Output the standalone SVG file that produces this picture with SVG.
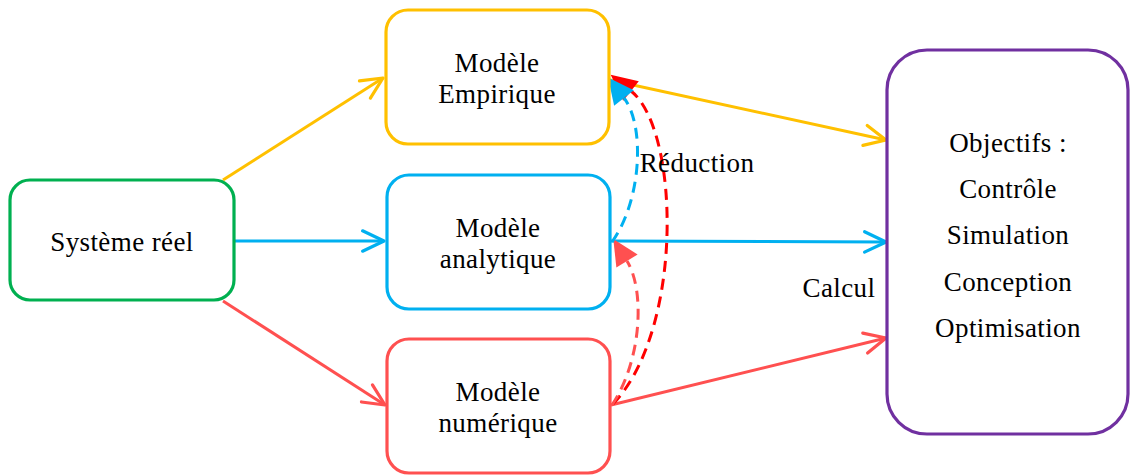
<svg xmlns="http://www.w3.org/2000/svg" width="1131" height="475" viewBox="0 0 1131 475">
<style>
.box{fill:#fff;stroke-width:3.2}
.lbl{font-family:"Liberation Serif","Times New Roman",serif;font-size:27px;fill:#000;text-anchor:middle;letter-spacing:0.4px}
.ln{fill:none;stroke-width:3}
.dash{fill:none;stroke-width:3;stroke-dasharray:11 7}
</style>
<defs>
<marker id="oy" markerUnits="userSpaceOnUse" markerWidth="30" markerHeight="30" viewBox="-24 -14 28 28" refX="0" refY="0" orient="auto"><path d="M-20,-9.5 L0,0 L-20,9.5" fill="none" stroke="#FFC000" stroke-width="3" stroke-linecap="round" stroke-linejoin="round"/></marker>
<marker id="ob" markerUnits="userSpaceOnUse" markerWidth="30" markerHeight="30" viewBox="-24 -14 28 28" refX="0" refY="0" orient="auto"><path d="M-20,-9.5 L0,0 L-20,9.5" fill="none" stroke="#00B0F0" stroke-width="3" stroke-linecap="round" stroke-linejoin="round"/></marker>
<marker id="or" markerUnits="userSpaceOnUse" markerWidth="30" markerHeight="30" viewBox="-24 -14 28 28" refX="0" refY="0" orient="auto"><path d="M-20,-9.5 L0,0 L-20,9.5" fill="none" stroke="#FF5050" stroke-width="3" stroke-linecap="round" stroke-linejoin="round"/></marker>
<marker id="fb" markerUnits="userSpaceOnUse" markerWidth="34" markerHeight="34" viewBox="-2 -17 34 34" refX="0" refY="0" orient="auto"><path d="M0,-12.5 L26,0 L0,12.5 Z" fill="#00B0F0"/></marker>
<marker id="fr" markerUnits="userSpaceOnUse" markerWidth="34" markerHeight="34" viewBox="-2 -17 34 34" refX="0" refY="0" orient="auto"><path d="M0,-12.5 L26,0 L0,12.5 Z" fill="#FF0000"/></marker>
<marker id="fl" markerUnits="userSpaceOnUse" markerWidth="34" markerHeight="34" viewBox="-2 -17 34 34" refX="0" refY="0" orient="auto"><path d="M0,-12.5 L26,0 L0,12.5 Z" fill="#FF5050"/></marker>
</defs>
<rect width="1131" height="475" fill="#fff"/>

<g id="connectors">
<line class="ln" stroke="#FFC000" x1="223" y1="180" x2="383" y2="78" marker-end="url(#oy)"/>
<line class="ln" stroke="#00B0F0" x1="234" y1="241" x2="384" y2="241" marker-end="url(#ob)"/>
<line class="ln" stroke="#FF5050" x1="223" y1="301" x2="385" y2="405" marker-end="url(#or)"/>
<line class="ln" stroke="#FFC000" x1="610" y1="80" x2="886" y2="140" marker-end="url(#oy)"/>
<line class="ln" stroke="#00B0F0" x1="611" y1="241" x2="886" y2="242" marker-end="url(#ob)"/>
<line class="ln" stroke="#FF5050" x1="611" y1="405" x2="886" y2="338" marker-end="url(#or)"/>
<path class="dash" stroke="#FF0000" d="M613,404 C684,330 680,130 631,91" marker-end="url(#fr)"/>
<path class="dash" stroke="#FF5050" d="M612,405 C642,360 645,290 627,261" marker-end="url(#fl)"/>
<path class="dash" stroke="#00B0F0" d="M612,242 C642,200 645,125 624,98" marker-end="url(#fb)"/>
<text class="lbl" x="697" y="172">Réduction</text>
<text class="lbl" x="839" y="297">Calcul</text>
</g>

<g id="systeme-reel">
<rect class="box" stroke="#00B050" x="10" y="180" width="224" height="120" rx="20"/>
<text class="lbl" x="122" y="251">Système réel</text>
</g>
<g id="modele-empirique">
<rect class="box" stroke="#FFC000" x="386" y="10" width="223" height="134" rx="22"/>
<text class="lbl" x="497" y="72">Modèle</text>
<text class="lbl" x="497" y="103">Empirique</text>
</g>
<g id="modele-analytique">
<rect class="box" stroke="#00B0F0" x="387" y="175" width="223" height="134" rx="22"/>
<text class="lbl" x="498" y="237">Modèle</text>
<text class="lbl" x="498" y="268">analytique</text>
</g>
<g id="modele-numerique">
<rect class="box" stroke="#FF5050" x="387" y="339" width="223" height="134" rx="22"/>
<text class="lbl" x="498" y="401">Modèle</text>
<text class="lbl" x="498" y="432">numérique</text>
</g>
<g id="objectifs">
<rect class="box" stroke="#7030A0" x="887" y="50" width="241" height="384" rx="40"/>
<text class="lbl" x="1008" y="152">Objectifs :</text>
<text class="lbl" x="1008" y="198">Contrôle</text>
<text class="lbl" x="1008" y="244">Simulation</text>
<text class="lbl" x="1008" y="291">Conception</text>
<text class="lbl" x="1008" y="337">Optimisation</text>
</g>
</svg>
